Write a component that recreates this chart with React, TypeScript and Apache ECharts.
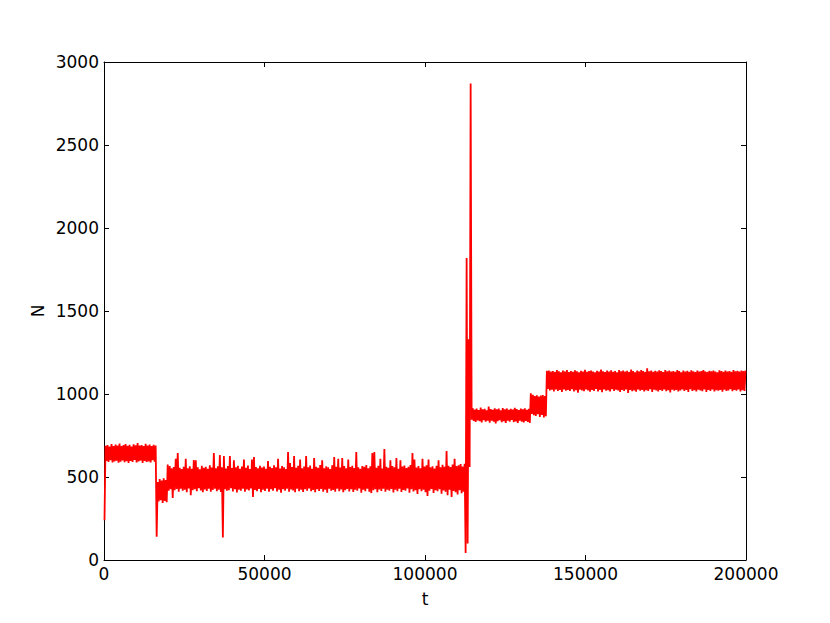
import React, { useEffect, useRef } from "react";
import * as echarts from "echarts";

// Sample spacing in t: each bucket holds a low and a high reading of N
const tStep = 625;

// Phase 1: t 0 - 16250
const lowPhase1 = [240, 596, 590, 601, 588, 594, 598, 586, 592, 600, 589, 595, 584, 597, 591, 603, 587, 593, 599, 585, 596, 590, 594, 588, 601, 592];
const highPhase1 = [688, 692, 684, 698, 687, 695, 690, 702, 686, 693, 699, 688, 694, 684, 697, 691, 705, 689, 693, 686, 700, 690, 695, 687, 694, 690];

// Phase 2: t 16250 - 20000
const lowPhase2 = [140, 352, 360, 344, 356, 348];
const highPhase2 = [470, 488, 478, 492, 482, 575];

// Phase 3: t 20000 - 112500
const lowPhase3 = [
  418, 426, 373, 421, 428, 412, 430, 417, 424, 409,
  431, 390, 420, 427, 414, 433, 419, 408, 425, 416,
  429, 411, 422, 430, 415, 424, 410, 135, 427, 418,
  421, 432, 413, 426, 407, 423, 417, 429, 412, 425,
  419, 431, 380, 422, 414, 428, 409, 424, 416, 430,
  411, 426, 418, 432, 413, 423, 406, 427, 417, 429,
  412, 425, 419, 408, 430, 415, 424, 410, 427, 418,
  431, 414, 422, 409, 426, 416, 428, 412, 424, 405,
  429, 417, 422, 411, 430, 415, 425, 408, 420, 428,
  413, 426, 410, 423, 417, 431, 406, 424, 415, 429,
  412, 403, 421, 427, 409, 425, 416, 430, 411, 423,
  418, 428, 407, 424, 414, 429, 410, 422, 417, 431,
  405, 426, 413, 420, 398, 427, 415, 423, 409, 385,
  418, 428, 404, 421, 414, 426, 400, 419, 411, 390,
  424, 380, 416, 408, 395, 420, 402, 412,
];
const highPhase3 = [
  566, 552, 560, 610, 644, 556, 548, 562, 610, 553,
  565, 550, 602, 600, 558, 547, 568, 555, 561, 549,
  570, 557, 645, 553, 564, 632, 559, 626, 551, 566,
  626, 554, 600, 558, 567, 550, 563, 605, 556, 569,
  548, 605, 620, 560, 552, 568, 557, 563, 549, 596,
  561, 554, 570, 558, 610, 551, 566, 559, 548, 650,
  584, 560, 626, 555, 567, 605, 552, 563, 626, 558,
  569, 550, 614, 561, 556, 572, 600, 553, 565, 558,
  548, 570, 620, 562, 610, 557, 615, 566, 552, 605,
  560, 568, 554, 650, 559, 549, 566, 561, 572, 553,
  564, 645, 650, 556, 567, 610, 551, 668, 562, 555,
  600, 566, 558, 615, 550, 600, 563, 569, 554, 561,
  572, 644, 605, 557, 566, 552, 610, 563, 570, 605,
  558, 565, 551, 568, 600, 559, 573, 562, 656, 567,
  560, 575, 610, 566, 571, 578, 563, 580,
];

// Phase 4: burst, t 112500 - 114375
const lowPhase4 = [42, 100, 560];
const highPhase4 = [1820, 1330, 2870];

// Phase 5: t 114375 - 133125
const lowPhase5 = [
  845, 838, 832, 841, 836, 829, 843, 834, 839, 827,
  840, 833, 822, 837, 842, 830, 836, 826, 839, 833,
  844, 831, 835, 825, 840, 834, 829, 838, 832, 826,
];
const highPhase5 = [
  915, 906, 912, 903, 918, 908, 911, 902, 925, 909,
  905, 914, 907, 912, 901, 916, 908, 913, 904, 910,
  906, 917, 909, 903, 912, 907, 914, 905, 911, 1005,
];

// Phase 6: t 133125 - 138125
const lowPhase6 = [880, 872, 868, 878, 862, 874, 858, 866];
const highPhase6 = [995, 988, 992, 985, 990, 994, 987, 1140];

// Phase 7: t 138125 - 200000
const lowPhase7 = [
  1030, 1021, 1026, 1015, 1028, 1019, 1024, 1012, 1027, 1020,
  1025, 1018, 1029, 1016, 1023, 1008, 1026, 1021, 1017, 1028,
  1022, 1014, 1025, 1019, 1030, 1016, 1024, 1011, 1027, 1020,
  1023, 1015, 1029, 1018, 1026, 1021, 1013, 1025, 1019, 1028,
  1006, 1024, 1017, 1022, 1014, 1027, 1020, 1025, 1016, 1023,
  1018, 1029, 1012, 1026, 1021, 1015, 1024, 1019, 1028, 1017,
  1023, 1010, 1026, 1020, 1025, 1016, 1022, 1027, 1018, 1024,
  1013, 1029, 1019, 1023, 1015, 1026, 1021, 1017, 1028, 1012,
  1024, 1019, 1027, 1016, 1023, 1020, 1025, 1014, 1026, 1018,
  1022, 1029, 1017, 1024, 1020, 1027, 1015, 1023, 1019,
];
const highPhase7 = [
  1142, 1135, 1139, 1133, 1144, 1137, 1130, 1141, 1136, 1145,
  1132, 1139, 1134, 1143, 1137, 1131, 1140, 1135, 1146, 1133,
  1138, 1142, 1136, 1131, 1140, 1135, 1148, 1137, 1132, 1141,
  1136, 1143, 1134, 1139, 1130, 1144, 1137, 1142, 1135, 1140,
  1133, 1147, 1138, 1131, 1142, 1136, 1144, 1139, 1133, 1155,
  1137, 1142, 1134, 1140, 1136, 1143, 1138, 1132, 1145, 1137,
  1141, 1135, 1139, 1133, 1144, 1138, 1131, 1142, 1136, 1140,
  1134, 1143, 1137, 1132, 1141, 1135, 1139, 1144, 1136, 1133,
  1140, 1137, 1142, 1135, 1131, 1143, 1138, 1134, 1141, 1136,
  1139, 1133, 1144, 1137, 1140, 1135, 1142, 1138, 1141,
];

const lowValues = [...lowPhase1, ...lowPhase2, ...lowPhase3, ...lowPhase4, ...lowPhase5, ...lowPhase6, ...lowPhase7];
const highValues = [...highPhase1, ...highPhase2, ...highPhase3, ...highPhase4, ...highPhase5, ...highPhase6, ...highPhase7];

const xTickInterval = 50000;
const yTickInterval = 500;

export default function App() {
  const ref = useRef<HTMLDivElement>(null);
  useEffect(() => {
    if (!ref.current) return;
    const chart = echarts.init(ref.current, null, { renderer: "svg" });
    const data: [number, number][] = [];
    for (let i = 0; i < lowValues.length; i++) {
      data.push([i * tStep + tStep * 0.25, lowValues[i]]);
      data.push([i * tStep + tStep * 0.75, highValues[i]]);
    }
    const font = "DejaVu Sans";
    const tick = { show: true, inside: true, length: 5, lineStyle: { color: "#000", width: 1 } };
    const axisLine = { show: true, onZero: false, lineStyle: { color: "#000", width: 1 } };
    const plain = (v: number) => String(v);
    chart.setOption({
      animation: false,
      backgroundColor: "#fff",
      grid: { left: 104, right: 84, top: 62, bottom: 63, containLabel: false },
      xAxis: [
        {
          type: "value",
          position: "bottom",
          min: 0,
          max: 200000,
          interval: xTickInterval,
          name: "t",
          nameLocation: "middle",
          nameGap: 30,
          nameMoveOverlap: false,
          nameTextStyle: { color: "#000", fontSize: 17, fontFamily: font },
          axisLine,
          axisTick: tick,
          splitLine: { show: false },
          axisLabel: { color: "#000", fontSize: 17, fontFamily: font, margin: 5, formatter: plain },
        },
        {
          type: "value",
          position: "top",
          min: 0,
          max: 200000,
          interval: xTickInterval,
          axisLine,
          axisTick: tick,
          splitLine: { show: false },
          axisLabel: { show: false },
        },
      ],
      yAxis: [
        {
          type: "value",
          position: "left",
          min: 0,
          max: 3000,
          interval: yTickInterval,
          name: "N",
          nameLocation: "middle",
          nameGap: 58,
          nameRotate: 90,
          nameMoveOverlap: false,
          nameTextStyle: { color: "#000", fontSize: 17, fontFamily: font },
          axisLine,
          axisTick: tick,
          splitLine: { show: false },
          axisLabel: { color: "#000", fontSize: 17, fontFamily: font, margin: 5, formatter: plain },
        },
        {
          type: "value",
          position: "right",
          min: 0,
          max: 3000,
          interval: yTickInterval,
          axisLine,
          axisTick: tick,
          splitLine: { show: false },
          axisLabel: { show: false },
        },
      ],
      series: [
        {
          type: "line",
          data,
          showSymbol: false,
          symbol: "none",
          lineStyle: { color: "#ff0000", width: 1.8 },
          z: 1,
        },
      ],
    });
    return () => chart.dispose();
  }, []);
  return (
    <div
      ref={ref}
      style={{ position: "absolute", left: 0, top: 0, width: 830, height: 623, background: "#fff" }}
    />
  );
}
